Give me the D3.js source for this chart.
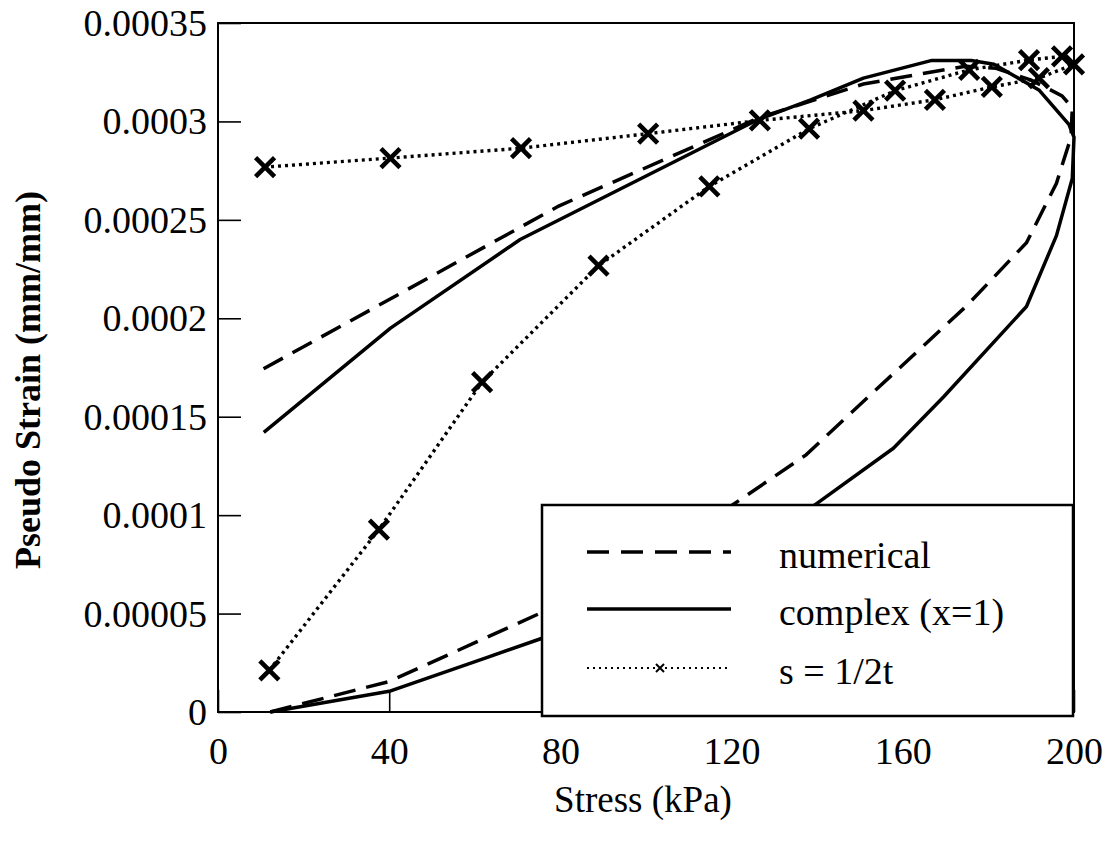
<!DOCTYPE html>
<html>
<head>
<meta charset="utf-8">
<script src="https://cdn.jsdelivr.net/npm/d3@7"></script>
</head>
<body style="margin:0;background:#fff">
<svg id="chart" width="1110" height="848" style="display:block"></svg>
<script>
// ---- data ----
const xTicks = [0, 40, 80, 120, 160, 200];
const xTickLabels = ["0", "40", "80", "120", "160", "200"];
const yTicks = [0, 0.00005, 0.0001, 0.00015, 0.0002, 0.00025, 0.0003, 0.00035];
const yTickLabels = ["0", "0.00005", "0.0001", "0.00015", "0.0002", "0.00025", "0.0003", "0.00035"];

const seriesNames = ["numerical", "complex (x=1)", "s = 1/2t"];

const numericalStress = [12.2, 40, 75.9, 100, 120.1, 137.4, 152.5, 175, 188.9, 195.9, 199.3, 199.6, 197.2, 190, 181.8, 174.6, 163.8, 150.8, 126.6, 79.6, 10.1];
const numericalStrain = [0, 0.0000155, 0.0000508, 0.000079, 0.000105, 0.0001306, 0.0001612, 0.0002065, 0.0002384, 0.0002686, 0.000292, 0.000307, 0.000313, 0.000321, 0.000327, 0.000328, 0.000324, 0.000319, 0.000302, 0.000257, 0.0001737];

const complexStress = [12.2, 40, 62.6, 75.9, 100, 120, 139.3, 157.8, 169.5, 188.9, 195.9, 199.6, 200, 198.8, 191.8, 181.3, 176, 166.8, 150.8, 138.5, 126.2, 70.6, 40.3, 10.7];
const complexStrain = [0, 0.0000105, 0.0000275, 0.0000376, 0.000061, 0.000083, 0.000105, 0.000134, 0.00016, 0.000206, 0.000242, 0.000271, 0.000292, 0.0002985, 0.000316, 0.000329, 0.000331, 0.000331, 0.000322, 0.000311, 0.000301, 0.00024, 0.000195, 0.000142];

const sStress = [12, 37.6, 61.7, 88.9, 114.8, 138.1, 158.2, 175.5, 189.5, 197.2, 200, 191.8, 180.8, 167.5, 150.8, 126.6, 100.5, 70.8, 40.3, 11];
const sStrain = [0.0000212, 0.0000927, 0.0001676, 0.0002267, 0.000267, 0.0002963, 0.0003156, 0.0003262, 0.0003312, 0.000333, 0.000329, 0.000322, 0.0003175, 0.000311, 0.0003055, 0.0003005, 0.0002938, 0.0002864, 0.0002814, 0.0002768];

const xTitle = "Stress (kPa)";
const yTitle = "Pseudo Strain (mm/mm)";

// ---- layout ----
const FONT = "Liberation Serif";
const svg = d3.select("#chart");
const L = 218, R = 1074, T = 23, B = 712;
const x = d3.scaleLinear().domain([0, 200]).range([L, R]);
const y = d3.scaleLinear().domain([0, 0.00035]).range([B, T]);

const zip = (xs, ys) => xs.map((v, i) => [v, ys[i]]);
const line = d3.line().x(d => x(d[0])).y(d => y(d[1]));

// axes (inward ticks)
const xAxis = d3.axisBottom(x).tickValues(xTicks)
  .tickFormat((d, i) => xTickLabels[i]).tickSizeInner(-22).tickSizeOuter(0).tickPadding(25);
const yAxis = d3.axisLeft(y).tickValues(yTicks)
  .tickFormat((d, i) => yTickLabels[i]).tickSizeInner(-23).tickSizeOuter(0).tickPadding(11);

const gx = svg.append("g").attr("transform", `translate(0,${B})`).call(xAxis);
const gy = svg.append("g").attr("transform", `translate(${L},0)`).call(yAxis);
[gx, gy].forEach(g => {
  g.attr("font-family", FONT).attr("font-size", 38);
  g.select(".domain").remove();
  g.selectAll(".tick line").attr("stroke", "#000").attr("stroke-width", 1.6);
  g.selectAll(".tick text").attr("font-family", FONT).attr("font-size", 38).attr("fill", "#000");
});
gy.selectAll(".tick text").attr("dy", "0.33em");

// frame
svg.append("rect").attr("x", L).attr("y", T).attr("width", R - L).attr("height", B - T)
  .attr("fill", "none").attr("stroke", "#000").attr("stroke-width", 2);

// series
const plot = svg.append("g");
plot.append("path").datum(zip(numericalStress, numericalStrain)).attr("d", line)
  .attr("fill", "none").attr("stroke", "#000").attr("stroke-width", 3.5)
  .attr("stroke-dasharray", "22,11");
plot.append("path").datum(zip(complexStress, complexStrain)).attr("d", line)
  .attr("fill", "none").attr("stroke", "#000").attr("stroke-width", 3.5)
  .attr("stroke-linejoin", "round");
const sData = zip(sStress, sStrain);
plot.append("path").datum(sData).attr("d", line)
  .attr("fill", "none").attr("stroke", "#000").attr("stroke-width", 3.4)
  .attr("stroke-dasharray", "3,4");

const xMark = (s) => `M${-s},${-s}L${s},${s}M${-s},${s}L${s},${-s}`;
plot.selectAll(".mk").data(sData).enter().append("path")
  .attr("class", "mk")
  .attr("transform", d => `translate(${x(d[0])},${y(d[1])})`)
  .attr("d", xMark(9.5))
  .attr("fill", "none").attr("stroke", "#000").attr("stroke-width", 4.6);

// legend
const lg = svg.append("g");
lg.append("rect").attr("x", 542).attr("y", 505).attr("width", 531).attr("height", 211)
  .attr("fill", "#fff").attr("stroke", "#000").attr("stroke-width", 2.5);
const legY = [552, 609, 668];
const legStyles = [
  { w: 3.5, dash: "22,12" },
  { w: 3.5, dash: null },
  { w: 2, dash: "2,4" }
];
seriesNames.forEach((name, i) => {
  const ln = lg.append("line").attr("x1", 587).attr("x2", 731).attr("y1", legY[i]).attr("y2", legY[i])
    .attr("stroke", "#000").attr("stroke-width", legStyles[i].w);
  if (legStyles[i].dash) ln.attr("stroke-dasharray", legStyles[i].dash);
  lg.append("text").attr("x", 779).attr("y", legY[i] + 16)
    .attr("font-family", FONT).attr("font-size", 38).attr("fill", "#000").text(name);
});
lg.append("path").attr("transform", `translate(660,${legY[2]})`).attr("d", xMark(4))
  .attr("fill", "none").attr("stroke", "#000").attr("stroke-width", 2);

// titles
svg.append("text").attr("x", 643).attr("y", 812).attr("text-anchor", "middle")
  .attr("font-family", FONT).attr("font-size", 37).attr("fill", "#000").text(xTitle);
svg.append("text").attr("transform", "translate(40,380) rotate(-90)").attr("text-anchor", "middle")
  .attr("font-family", FONT).attr("font-size", 36).attr("font-weight", "bold").attr("fill", "#000").text(yTitle);
</script>
</body>
</html>
